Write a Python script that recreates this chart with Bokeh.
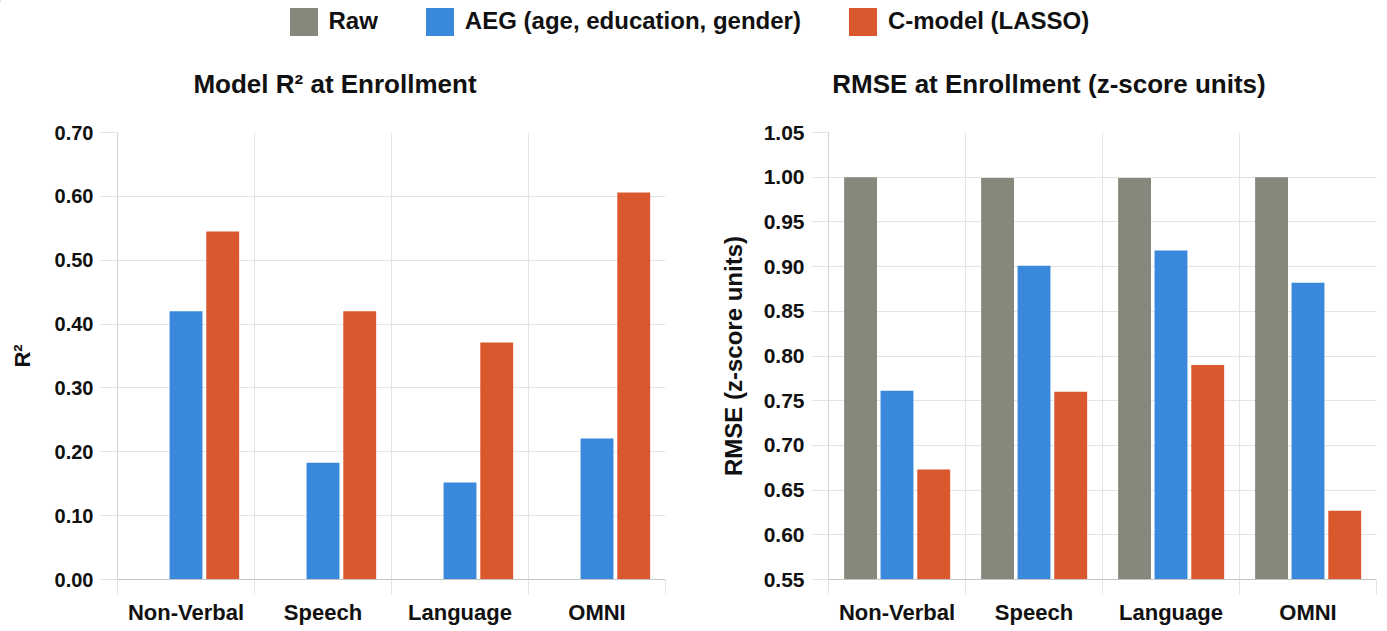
from bokeh.plotting import figure
from bokeh.models import Range1d, FixedTicker, NumeralTickFormatter, Legend, LegendItem, Label
from bokeh.layouts import column, row
from bokeh.embed import file_html
from bokeh.resources import INLINE

# ---------------- data ----------------
categories = ["Non-Verbal", "Speech", "Language", "OMNI"]
series_names = ["Raw", "AEG (age, education, gender)", "C-model (LASSO)"]
titles = ["Model R\u00b2 at Enrollment", "RMSE at Enrollment (z-score units)"]
ylabels = ["R\u00b2", "RMSE (z-score units)"]

r2_raw = [0.0, 0.0, 0.0, 0.0]
r2_aeg = [0.420, 0.183, 0.152, 0.221]
r2_cmodel = [0.545, 0.420, 0.371, 0.606]

rmse_raw = [1.000, 0.999, 0.999, 1.000]
rmse_aeg = [0.761, 0.901, 0.918, 0.882]
rmse_cmodel = [0.673, 0.760, 0.790, 0.627]

r2_ticks = [0.00, 0.10, 0.20, 0.30, 0.40, 0.50, 0.60, 0.70]
rmse_ticks = [0.55, 0.60, 0.65, 0.70, 0.75, 0.80, 0.85, 0.90, 0.95, 1.00, 1.05]

colors = ["#87877B", "#3A88DC", "#D9582D"]
offsets = [-0.266, 0.0, 0.268]

FONT = "Liberation Sans"
GRID = "#e4e4e4"
TXT = "#111111"


def make_chart(ylabel, ticks, vals, width, mbl, mbr, label_standoff, tick_size, label_size):
    n = len(categories)
    p = figure(width=width, height=531, x_range=Range1d(0, n),
               y_range=Range1d(ticks[0], ticks[-1]),
               toolbar_location=None, output_backend="svg",
               min_border_left=mbl, min_border_right=mbr,
               min_border_top=32, min_border_bottom=52,
               outline_line_color=None)

    for j, v in enumerate(vals):
        xs = [i + 0.5 + offsets[j] for i in range(n)]
        p.vbar(x=xs, top=v, bottom=ticks[0], width=0.24,
               fill_color=colors[j], line_color=None)

    # y axis
    ya = p.yaxis[0]
    ya.ticker = FixedTicker(ticks=ticks, minor_ticks=[])
    ya.formatter = NumeralTickFormatter(format="0.00")
    ya.major_tick_out = 17
    ya.major_tick_in = 0
    ya.major_tick_line_color = GRID
    ya.minor_tick_line_color = None
    ya.axis_line_color = "#d4d4d4"
    ya.major_label_standoff = 7
    ya.major_label_text_font = FONT
    ya.major_label_text_font_style = "bold"
    ya.major_label_text_font_size = tick_size
    ya.major_label_text_color = TXT
    ya.axis_label = ylabel
    ya.axis_label_text_font = FONT
    ya.axis_label_text_font_style = "bold"
    ya.axis_label_text_font_size = label_size
    ya.axis_label_text_color = TXT
    ya.axis_label_standoff = label_standoff

    # x axis: labels at category centres, short ticks at category boundaries
    xa = p.xaxis[0]
    centers = [i + 0.5 for i in range(n)]
    xa.ticker = FixedTicker(ticks=centers, minor_ticks=list(range(n + 1)))
    xa.major_label_overrides = {c: cat for c, cat in zip(centers, categories)}
    xa.major_tick_out = 0
    xa.major_tick_in = 0
    xa.major_tick_line_color = None
    xa.minor_tick_out = 15
    xa.minor_tick_in = 0
    xa.minor_tick_line_color = GRID
    xa.axis_line_color = "#c4c4c4"
    xa.major_label_standoff = 5
    xa.major_label_text_font = FONT
    xa.major_label_text_font_style = "bold"
    xa.major_label_text_font_size = "22px"
    xa.major_label_text_color = TXT

    p.xgrid.ticker = FixedTicker(ticks=list(range(n + 1)), minor_ticks=[])
    p.xgrid.grid_line_color = GRID
    p.ygrid.grid_line_color = GRID
    return p


left = make_chart(ylabels[0], r2_ticks, [r2_raw, r2_aeg, r2_cmodel],
                  700, 117, 35, 17, "20px", "22px")
right = make_chart(ylabels[1], rmse_ticks, [rmse_raw, rmse_aeg, rmse_cmodel],
                   687, 128, 11, 14, "21px", "24px")

# ---------------- header strip: legend + chart titles ----------------
H = 100
lg = figure(width=1387, height=H, toolbar_location=None, output_backend="svg",
            min_border=0, outline_line_color=None,
            x_range=Range1d(0, 1387), y_range=Range1d(H, 0))
lg.axis.visible = False
lg.grid.visible = False
items = []
for name, c in zip(series_names, colors):
    # placed outside the visible range: only its legend swatch is seen
    r = lg.vbar(x=[-50], top=[1], width=10, fill_color=c, line_color=None)
    items.append(LegendItem(label=name, renderers=[r]))
legend = Legend(items=items, orientation="horizontal", location=(285.5, 61.5),
                glyph_width=35, glyph_height=35, label_standoff=8, spacing=44,
                padding=0, margin=0, border_line_color=None, background_fill_alpha=0,
                label_text_font=FONT, label_text_font_style="bold",
                label_text_font_size="24px", label_text_color=TXT)
lg.add_layout(legend)

for t, cx in zip(titles, [334.5, 1048.5]):
    lg.add_layout(Label(x=cx, y=83, text=t, text_align="center", text_baseline="middle",
                        text_font=FONT, text_font_style="bold", text_font_size="26px",
                        text_color=TXT))

page = column(lg, row(left, right))
open("out.html", "w").write(file_html(page, INLINE))
